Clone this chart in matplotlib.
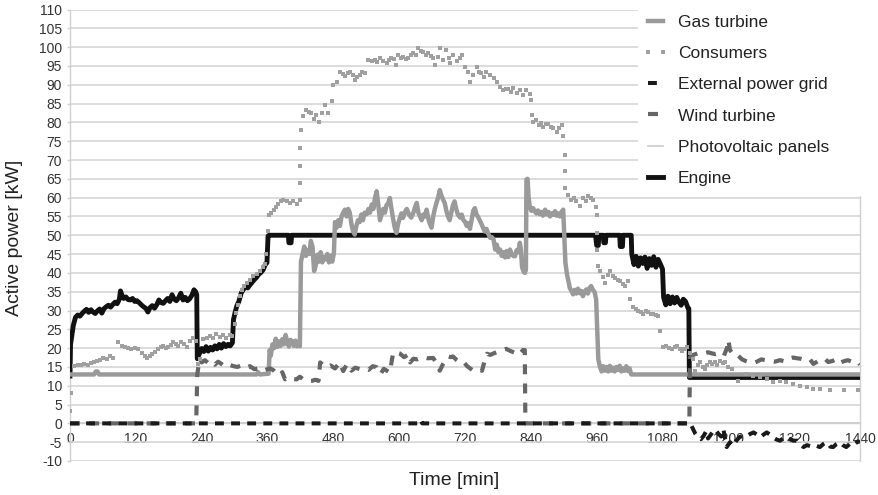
import matplotlib
matplotlib.use('Agg')
import matplotlib.pyplot as plt
from matplotlib.patches import Rectangle

plt.rcParams['font.family'] = ['Liberation Sans', 'DejaVu Sans']
plt.rcParams['axes.unicode_minus'] = False

# Gas turbine
gas_t = [0, 44, 47, 50, 53, 340, 343, 346, 362, 364, 366, 369, 372, 375, 378, 381, 384, 387, 390, 393,
         396, 399, 402, 405, 408, 411, 414, 417, 419, 421, 424, 427, 430, 433, 436, 439, 442, 445, 448,
         451, 454, 457, 460, 463, 466, 469, 472, 475, 478, 481, 483, 486, 489, 492, 495, 498, 501, 504,
         507, 510, 513, 516, 519, 522, 525, 528, 531, 534, 537, 541, 544, 547, 550, 553, 556, 559, 562,
         565, 568, 571, 574, 577, 580, 583, 586, 589, 592, 595, 598, 601, 604, 607, 610, 614, 618, 622,
         626, 629, 632, 635, 638, 641, 644, 647, 650, 653, 656, 659, 662, 665, 668, 671, 674, 677, 680,
         683, 686, 689, 692, 695, 698, 701, 704, 707, 711, 714, 717, 720, 723, 726, 729, 732, 735, 738,
         741, 744, 747, 750, 753, 756, 759, 762, 766, 769, 772, 775, 778, 781, 784, 787, 790, 793, 796,
         799, 802, 805, 808, 811, 814, 817, 820, 822, 824, 827, 829, 831, 832, 834, 836, 838, 841, 844,
         847, 850, 853, 856, 859, 862, 866, 869, 872, 875, 878, 881, 884, 887, 890, 893, 896, 899, 901,
         903, 906, 908, 911, 914, 917, 920, 923, 926, 929, 932, 935, 938, 941, 944, 947, 950, 953, 956,
         959, 961, 963, 966, 969, 972, 975, 978, 981, 984, 987, 990, 993, 996, 999, 1002, 1005, 1008,
         1011, 1014, 1017, 1020, 1023, 1440]
gas_kw = [13, 13, 13.8, 13.8, 13, 13, 13.6, 13, 13.2, 19.5, 18, 21, 20, 22.5, 20.3, 21.8, 20.6, 22.4, 21,
          23.5, 21.6, 20.4, 22.2, 21.8, 20.6, 22, 20.5, 21.5, 20.5, 43, 45, 47, 44.5, 46, 45, 48.5, 47,
          40.5, 42, 44.8, 43, 45.5, 42.8, 44.2, 43.6, 45, 42.8, 44.6, 43, 45.2, 53.5, 52, 54, 52.5, 55,
          56, 56.8, 55, 57, 56, 53, 51, 50.2, 52.5, 54, 53.5, 55.5, 54, 56, 55.6, 57, 56, 58.2, 57, 60,
          61.7, 58, 54, 55.5, 57, 56, 58, 58.5, 59.9, 57, 54.3, 52, 50.6, 53, 54.5, 55.8, 54.6, 56, 57,
          55.5, 54.7, 56, 57.5, 58.6, 56, 55, 54, 55.5, 55, 56.8, 54.5, 53, 52, 55, 57, 58.6, 60, 62,
          60.5, 59.5, 58.6, 56.5, 55, 54, 56, 58, 59, 57, 55.5, 54.7, 55.5, 54, 53.6, 52.5, 53.2, 51.7,
          54, 56.5, 57.2, 55.5, 54.8, 53.9, 53, 52, 51, 51.7, 50.5, 49.3, 49.5, 48.9, 46.2, 47.5, 45.5,
          46.2, 44.5, 45.5, 44.1, 45.8, 44.2, 46.2, 45, 44.5, 44.4, 46, 45.5, 48, 46, 41.5, 40.3, 40,
          40.8, 64.8, 65, 60, 57.7, 56.5, 57.2, 56.4, 55.8, 56.6, 55.6, 56.2, 55.2, 56.8, 55.5, 56.2, 55,
          55.8, 55.4, 56.4, 55.2, 55.8, 55, 56.2, 56.8, 50, 42.7, 39.5, 38.2, 36, 35.2, 34.3, 35.5, 34.5,
          35.8, 34.6, 35.2, 33.8, 35, 35.6, 34.5, 36, 36.5, 35.5, 35, 33, 25, 17, 15, 13.8, 15.2, 14, 15,
          13.8, 15.3, 14, 14.8, 13.8, 15, 14.2, 15.3, 13.8, 14.6, 14, 15.2, 13.9, 14.6, 13, 13]

# Consumers
cons_t = [0, 1, 8, 14, 20, 26, 32, 38, 44, 49, 55, 61, 67, 73, 79, 88, 94, 100, 106, 112, 118, 124, 131,
          136, 140, 145, 149, 155, 161, 166, 170, 175, 179, 184, 188, 193, 197, 203, 208, 213, 219, 225,
          230, 234, 237, 243, 249, 255, 261, 267, 273, 279, 285, 291, 296, 300, 303, 306, 309, 314, 318,
          322, 328, 334, 340, 346, 351, 355, 358, 361, 362, 366, 371, 376, 380, 385, 389, 395, 401, 407,
          413, 419, 419, 419, 420, 421, 425, 431, 436, 440, 445, 449, 453, 459, 465, 471, 477, 480, 486,
          492, 497, 501, 506, 510, 515, 519, 524, 528, 533, 538, 544, 550, 556, 560, 565, 571, 577, 582,
          586, 590, 595, 598, 603, 607, 612, 617, 622, 626, 631, 635, 640, 644, 649, 653, 658, 662, 665,
          670, 675, 680, 686, 690, 693, 699, 705, 710, 714, 720, 726, 729, 735, 741, 746, 750, 755, 759,
          765, 772, 778, 784, 790, 795, 799, 804, 808, 814, 820, 826, 832, 838, 841, 842, 844, 849, 854,
          859, 863, 868, 872, 877, 881, 887, 892, 896, 899, 902, 902, 903, 908, 914, 918, 923, 930, 936,
          941, 945, 950, 954, 958, 960, 960, 961, 963, 966, 971, 975, 980, 984, 989, 993, 998, 1003, 1008,
          1012, 1018, 1021, 1027, 1032, 1036, 1041, 1045, 1050, 1054, 1059, 1063, 1068, 1072, 1075, 1081,
          1087, 1092, 1097, 1102, 1106, 1111, 1115, 1120, 1124, 1130, 1136, 1139, 1144, 1148, 1153, 1157,
          1162, 1166, 1171, 1176, 1180, 1185, 1190, 1194, 1200, 1206, 1218, 1233, 1245, 1258, 1270, 1282,
          1294, 1306, 1318, 1331, 1343, 1355, 1367, 1385, 1410, 1437]
cons_kw = [3.4, 8.2, 15.2, 15.6, 15.4, 15.8, 15.6, 16.0, 16.2, 16.5, 16.8, 17.5, 17.2, 17.8, 17.5, 21.5,
           20.6, 20.4, 20.0, 19.7, 20.0, 19.7, 18.8, 18.0, 17.5, 18.0, 18.4, 19.0, 19.7, 20.2, 20.6, 20.0,
           20.2, 20.8, 21.5, 21.0, 20.6, 21.5, 21.0, 20.2, 21.8, 22.8, 22.0, 15.7, 17.0, 22.4, 22.8, 23.3,
           22.6, 23.7, 23.0, 23.5, 22.8, 23.6, 23.2, 26.5, 29.4, 31.5, 33.8, 35.5, 36.5, 37.3, 38.2, 39.1,
           39.8, 40.5, 41.5, 42.3, 45.0, 51.1, 55.5, 56.0, 56.8, 57.6, 58.2, 59.0, 59.5, 59.0, 58.6, 59.2,
           58.2, 59.5, 63.9, 68.3, 73.1, 78.0, 81.6, 83.3, 82.8, 82.4, 81.0, 82.0, 80.2, 82.4, 84.7, 82.4,
           85.6, 90.0, 90.8, 93.5, 92.8, 92.2, 93.0, 93.5, 92.5, 91.3, 92.0, 92.6, 93.4, 93.0, 96.6, 96.4,
           96.6, 96.0, 97.0, 96.2, 95.7, 96.5, 97.0, 96.8, 95.3, 97.9, 97.0, 97.5, 96.8, 97.0, 97.8, 98.4,
           98.0, 99.7, 99.0, 98.8, 98.0, 98.4, 97.6, 97.0, 95.3, 97.5, 99.7, 96.6, 99.3, 97.0, 95.7, 97.9,
           96.2, 97.0, 97.9, 94.8, 93.5, 90.8, 92.6, 94.8, 93.5, 93.0, 92.0, 93.5, 92.5, 91.7, 90.8, 89.5,
           88.6, 89.0, 88.8, 88.2, 89.1, 87.8, 88.6, 87.3, 88.6, 87.5, 86.0, 82.0, 80.2, 80.5, 79.3, 79.8,
           78.9, 79.5, 79.7, 78.8, 78.4, 77.5, 78.6, 79.3, 76.3, 71.4, 67.0, 62.6, 60.8, 59.5, 60.0, 59.0,
           57.7, 59.9, 59.0, 60.4, 59.8, 59.5, 57.5, 55.5, 50.6, 46.2, 41.8, 40.5, 39.0, 37.4, 39.5, 40.5,
           39.2, 38.7, 38.2, 37.8, 37.0, 36.5, 37.8, 33.0, 30.8, 30.5, 29.9, 29.5, 29.0, 29.8, 29.5, 29.2,
           29.0, 28.8, 28.6, 24.6, 20.2, 20.6, 20.0, 19.7, 20.4, 20.6, 19.8, 19.3, 19.8, 20.2, 18.8, 17.0,
           14.0, 15.5, 16.2, 15.0, 14.4, 15.5, 16.2, 15.8, 16.2, 15.5, 16.6, 16.0, 16.2, 14.9, 14.4, 11.3,
           13.0, 12.5, 12.2, 11.8, 10.9, 11.3, 10.9, 10.5, 10.0, 9.6, 9.2, 9.2, 8.8, 8.8, 8.8]

# External power grid
grid_t = [0, 638, 640, 642, 1128, 1130, 1134, 1140, 1145, 1150, 1155, 1160, 1163, 1168, 1172, 1176, 1182,
          1187, 1191, 1194, 1197, 1203, 1209, 1215, 1221, 1227, 1233, 1240, 1246, 1252, 1258, 1264, 1270,
          1276, 1282, 1288, 1294, 1300, 1306, 1312, 1318, 1325, 1331, 1337, 1343, 1349, 1355, 1361, 1367,
          1373, 1379, 1382, 1386, 1391, 1397, 1403, 1409, 1415, 1421, 1426, 1431, 1436, 1440]
grid_kw = [0, 0, 0.8, 0, 0, 0.2, -1.0, -2.8, -3.8, -4.2, -3.3, -2.0, -4.0, -3.0, -2.2, -1.6, -2.8, -3.5,
           -1.5, -4.0, -6.3, -5.0, -6.0, -4.5, -3.6, -3.3, -3.4, -2.8, -2.4, -3.0, -3.7, -3.0, -2.4, -3.0,
           -3.8, -4.3, -4.6, -4.0, -3.5, -4.2, -4.6, -4.6, -5.5, -6.3, -5.8, -6.0, -6.3, -6.0, -6.3, -5.5,
           -5.0, -5.4, -6.2, -6.3, -5.5, -5.0, -5.8, -6.3, -5.5, -5.0, -5.4, -4.8, -5.0]

# Wind turbine
wind_t = [0, 230, 232, 236, 240, 246, 252, 258, 264, 270, 276, 282, 290, 298, 305, 313, 320, 328, 336, 343,
          350, 358, 365, 371, 377, 383, 387, 392, 398, 405, 413, 419, 425, 433, 441, 447, 453, 456, 462,
          468, 475, 483, 492, 498, 505, 513, 520, 529, 536, 544, 552, 559, 566, 572, 583, 589, 595, 601,
          609, 617, 620, 626, 632, 638, 645, 652, 662, 668, 674, 680, 689, 694, 698, 705, 711, 717, 724,
          735, 743, 751, 755, 760, 766, 772, 780, 789, 795, 802, 810, 815, 820, 826, 829, 830, 1129, 1130,
          1136, 1148, 1155, 1163, 1170, 1177, 1185, 1192, 1198, 1200, 1203, 1210, 1218, 1225, 1233, 1240,
          1246, 1252, 1260, 1268, 1276, 1285, 1294, 1303, 1310, 1318, 1325, 1331, 1340, 1349, 1355, 1363,
          1370, 1376, 1382, 1390, 1397, 1403, 1410, 1418, 1425, 1431, 1437, 1440]
wind_kw = [0, 0, 13, 17, 16.2, 16.8, 16, 16.5, 15.6, 16.4, 15.8, 15.1, 15.6, 15.2, 15.0, 15.4, 14.8, 15.2,
           14.4, 14.6, 13.9, 14.3, 14.6, 14.1, 13.2, 12.8, 13.6, 11.7, 12.2, 11.8, 11.7, 12.4, 11.7, 11.2,
           11.3, 11.6, 11.3, 16.2, 15.5, 14.9, 15.4, 14.6, 16.2, 13.9, 15.8, 14.0, 14.8, 14.4, 14.6, 14.2,
           15.2, 14.9, 13.1, 14.5, 13.5, 18.8, 18.9, 18.6, 17.6, 18.3, 16.2, 17.2, 17.0, 17.4, 17.6, 17.3,
           17.4, 16.0, 14.0, 15.8, 17.8, 17.6, 17.8, 16.8, 16.2, 16.4, 15.2, 14.0, 14.4, 14.0, 16.2, 18.5,
           18.2, 18.6, 19.0, 19.5, 19.8, 19.3, 18.8, 19.2, 20.0, 19.2, 19.5, 0, 0, 17.5, 18.2, 18.8, 18.6,
           18.9, 18.6, 18.4, 18.7, 18.0, 20.2, 22.2, 19.5, 18.0, 18.0, 17.0, 16.5, 16.2, 16.0, 16.4, 17.0,
           16.8, 16.6, 16.4, 16.8, 16.5, 17.2, 17.5, 17.3, 17.2, 16.8, 17.0, 15.8, 16.5, 16.8, 17.2, 16.3,
           16.6, 17.0, 16.0, 16.5, 16.8, 16.4, 16.0, 16.2, 15.6]

# Photovoltaic panels
pv_t = [0, 1440]
pv_kw = [0, 0]

# Engine
engine_t = [0, 1, 3, 6, 10, 14, 18, 22, 26, 30, 34, 38, 42, 46, 50, 54, 58, 62, 66, 70, 74, 78, 82, 86,
            90, 92, 95, 98, 102, 106, 110, 114, 118, 122, 126, 130, 134, 138, 142, 146, 150, 154, 158, 162,
            166, 170, 174, 178, 182, 186, 190, 194, 198, 202, 206, 210, 214, 218, 222, 226, 229, 231, 232,
            236, 240, 244, 248, 252, 256, 260, 264, 268, 272, 276, 280, 284, 288, 292, 296, 298, 301, 304,
            308, 312, 316, 320, 324, 328, 332, 336, 340, 344, 348, 352, 356, 359, 361, 363, 398, 399, 403,
            404, 958, 960, 963, 964, 972, 973, 976, 977, 1002, 1003, 1007, 1008, 1023, 1024, 1028, 1032,
            1036, 1040, 1044, 1048, 1052, 1056, 1060, 1064, 1068, 1072, 1076, 1080, 1082, 1086, 1090, 1094,
            1098, 1102, 1106, 1110, 1114, 1118, 1122, 1126, 1128, 1129, 1440]
engine_kw = [12.6, 21, 23, 26, 28.2, 28.8, 28.5, 29.2, 29.8, 30.3, 29.5, 30.2, 29.6, 29.2, 29.9, 30.4,
             29.3, 30.5, 31, 31.4, 30.9, 31.6, 32.2, 31.8, 33, 35.2, 34, 33.2, 33.6, 32.9, 32.8, 33.2,
             32.4, 32.6, 32.1, 31.5, 31.0, 30.6, 29.6, 30.8, 31.3, 30.6, 31.5, 32.8, 32.1, 31.9, 32.6,
             33.2, 32.4, 34.2, 33, 32.6, 33.4, 34.6, 32.8, 33.5, 32.6, 33.1, 34.0, 35.5, 35.0, 34.2, 17.2,
             18.6, 19.9, 19.1, 20.4, 19.2, 20.2, 19.5, 20.6, 19.8, 21.0, 20.0, 21.2, 20.4, 21.0, 20.6, 21.4,
             27.6, 29.5, 31.2, 32.5, 34.6, 35.6, 36.2, 36.0, 36.8, 37.5, 38.2, 38.8, 39.6, 40.1, 40.8, 42.2,
             42.7, 49.8, 50, 50, 48, 48, 50, 50, 47.3, 47.3, 50, 50, 48, 48, 50, 50, 47, 47, 50, 50, 45,
             42.2, 44.4, 41.8, 44, 42.5, 44.2, 41.2, 43.8, 42, 44.3, 41.5, 43.6, 42.4, 41, 33.5, 31.5, 33.8,
             31.8, 33.6, 32, 33.5, 32.2, 31.4, 33, 32.4, 30.8, 30.5, 12.2, 12.2]

x_ticks = [0, 120, 240, 360, 480, 600, 720, 840, 960, 1080, 1200, 1320, 1440]
y_ticks = list(range(-10, 111, 5))

fig = plt.figure(figsize=(8.79, 4.95), dpi=100)
ax = fig.add_axes([70 / 879, 1 - 461 / 495, 790 / 879, 451.5 / 495])

ax.plot(pv_t, pv_kw, color='#cccccc', lw=1.2, label='Photovoltaic panels', zorder=2)
ax.plot(engine_t, engine_kw, color='#111111', lw=3.5, label='Engine', zorder=3,
        solid_joinstyle='round')
ax.plot(gas_t, gas_kw, color='#9a9a9a', lw=3.2, label='Gas turbine', zorder=4,
        solid_joinstyle='round')
ax.plot(wind_t, wind_kw, color='#666666', lw=3.0, dashes=(2.4, 2.2), label='Wind turbine', zorder=5)
ax.plot(grid_t, grid_kw, color='#1a1a1a', lw=2.9, dashes=(2.2, 1.8), label='External power grid',
        zorder=6)
ax.plot(cons_t, cons_kw, ls='none', marker='s', ms=2.9, mew=0, color='#a0a0a0', label='Consumers',
        zorder=7)

ax.set_xlim(0, 1440)
ax.set_ylim(-10, 110)
ax.set_xticks(x_ticks)
ax.set_yticks(y_ticks)
ax.tick_params(axis='x', length=0, pad=6, labelsize=10, labelcolor='#333333')
ax.tick_params(axis='y', length=2.5, width=1, color='#d0d0d0', pad=3.2, labelsize=10,
               labelcolor='#333333')
ax.grid(axis='y', color='#d6d6d6', lw=1.2)
ax.set_axisbelow(True)

ax.spines['bottom'].set_position(('data', 0))
for side in ['left', 'right', 'bottom']:
    ax.spines[side].set_color('#d0d0d0')
    ax.spines[side].set_linewidth(1.0)
ax.spines['top'].set_visible(False)

ax.set_xlabel('Time [min]', fontsize=14, color='#222222')
ax.xaxis.set_label_coords((454 - 70) / 790, (461 - 480) / 451)
ax.xaxis.label.set_va('center')
ax.set_ylabel('Active power [kW]', fontsize=14, color='#222222')
ax.yaxis.set_label_coords((15 - 70) / 790, (461 - 238) / 451)
ax.yaxis.label.set_va('center')

# white box behind legend (hides gridlines, like the original)
fig.patches.append(Rectangle((638 / 879, 1 - 196 / 495), 241 / 879, 196 / 495,
                             transform=fig.transFigure, facecolor='white', edgecolor='none',
                             zorder=3))

handles, labels = ax.get_legend_handles_labels()
order = ['Gas turbine', 'Consumers', 'External power grid', 'Wind turbine', 'Photovoltaic panels', 'Engine']
hmap = dict(zip(labels, handles))
leg = fig.legend([hmap[k] for k in order], order, loc='upper left',
                 bbox_to_anchor=(643 / 879, 1 - 15 / 495), frameon=False, fontsize=12.5,
                 borderpad=0, borderaxespad=0, labelspacing=0.92, handlelength=1.44,
                 handletextpad=0.57, numpoints=2, labelcolor='#222222')
leg.set_zorder(5)

plt.savefig('out.png', dpi=100)
